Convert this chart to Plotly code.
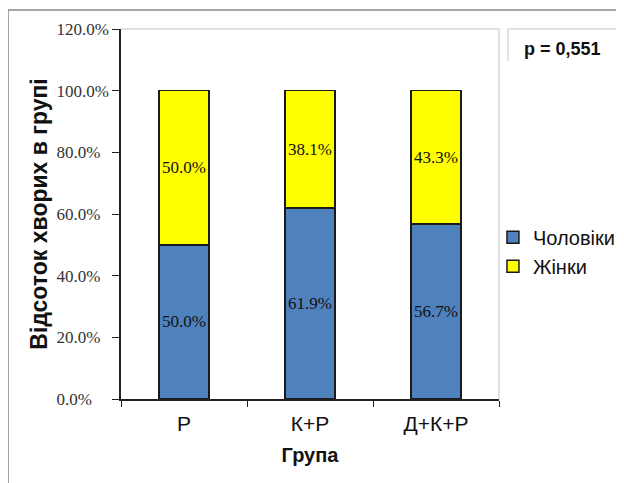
import plotly.graph_objects as go

categories = ["Р", "К+Р", "Д+К+Р"]
men = [50.0, 61.9, 56.7]
women = [50.0, 38.1, 43.3]
y_ticks = [0, 20, 40, 60, 80, 100, 120]
y_tick_labels = ["0.0%", "20.0%", "40.0%", "60.0%", "80.0%", "100.0%", "120.0%"]

# left-align tick labels by padding with figure spaces
maxlen = max(len(t) for t in y_tick_labels)
y_tick_text = [t + "\u2007" * (maxlen - len(t)) for t in y_tick_labels]

fig = go.Figure()
fig.add_bar(x=categories, y=men, name="Чоловіки",
            marker=dict(color="#4f81bd", line=dict(color="#1a1a1a", width=1.5)),
            text=[f"{v:.1f}%" for v in men], textposition="inside",
            insidetextanchor="middle", constraintext="none",
            textfont=dict(family="Liberation Serif", size=17, color="#111"))
fig.add_bar(x=categories, y=women, name="Жінки",
            marker=dict(color="#ffff00", line=dict(color="#1a1a1a", width=1.5)),
            text=[f"{v:.1f}%" for v in women], textposition="inside",
            insidetextanchor="middle", constraintext="none",
            textfont=dict(family="Liberation Serif", size=17, color="#111"))

fig.update_layout(
    width=616, height=475,
    barmode="stack", bargap=0.6,
    paper_bgcolor="white", plot_bgcolor="white",
    margin=dict(l=113, r=125, t=21, b=84, autoexpand=False),
    showlegend=True,
    legend=dict(x=0.984, y=0.49, xanchor="left", yanchor="top",
                font=dict(family="Liberation Sans", size=20, color="#111"),
                traceorder="normal", itemwidth=30, tracegroupgap=0,
                bgcolor="rgba(0,0,0,0)"),
)
fig.update_xaxes(
    type="category", tickson="boundaries", ticks="outside", ticklen=6,
    tickcolor="#222", showline=True, linecolor="#222", linewidth=1.5,
    tickfont=dict(family="Liberation Sans", size=21, color="#111"),
    ticklabelstandoff=5,
    title=dict(text="<b>Група</b>", font=dict(family="Liberation Sans", size=20, color="#111"), standoff=14),
    showgrid=False,
)
fig.update_yaxes(
    range=[0, 120], tickvals=y_ticks, ticktext=y_tick_text,
    ticks="outside", ticklen=7, tickcolor="#222",
    showline=True, linecolor="#222", linewidth=1.5, showgrid=False, zeroline=False,
    tickfont=dict(family="Liberation Serif", size=17, color="#333"),
    title=dict(text="<b>Відсоток хворих в групі</b>", font=dict(family="Liberation Sans", size=23, color="#111"), standoff=2),
)

# plot area frame (top and right)
fig.add_shape(type="line", xref="paper", yref="paper", x0=0, x1=1, y0=1, y1=1,
              line=dict(color="#d9d9d9", width=1.5))
fig.add_shape(type="line", xref="paper", yref="paper", x0=1, x1=1, y0=0, y1=1,
              line=dict(color="#d9d9d9", width=1.5))
# outer chart border
fig.add_shape(type="line", xref="paper", yref="paper", x0=-0.2989, x1=1.34, y0=1.0514, y1=1.0514,
              line=dict(color="#888", width=1.5))
fig.add_shape(type="line", xref="paper", yref="paper", x0=-0.2989, x1=-0.2989, y0=1.0514, y1=-0.24,
              line=dict(color="#888", width=1.5))
# p-value box
fig.add_shape(type="path", xref="paper", yref="paper",
              path="M 1.0238 0.9135 L 1.0238 1 L 1.3175 1 L 1.3175 0.9135",
              line=dict(color="#d9d9d9", width=1.5))
fig.add_annotation(xref="paper", yref="paper", x=1.168, y=0.945, showarrow=False,
                   xanchor="center", yanchor="middle",
                   text="<b>p = 0,551</b>", font=dict(family="Liberation Sans", size=18, color="#111"))

fig.write_html("out.html")
